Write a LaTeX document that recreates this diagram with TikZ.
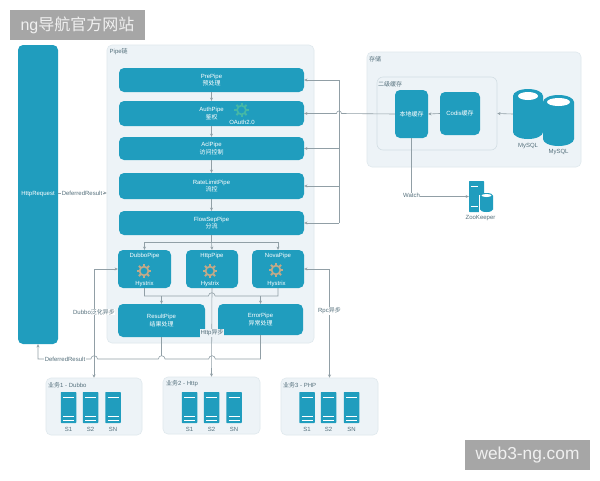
\documentclass[tikz,border=0pt]{standalone}
\usepackage{fontspec}
\setmainfont{Liberation Sans}
\newfontfamily\cjk{Noto Sans CJK SC}
\usetikzlibrary{arrows.meta}
\definecolor{teal1}{HTML}{209DBE}
\definecolor{panelfill}{HTML}{EDF3F7}
\definecolor{panelline}{HTML}{DFE8ED}
\definecolor{cacheline}{HTML}{D3DEE4}
\definecolor{wire}{HTML}{919FA6}
\definecolor{ink}{HTML}{55707C}
\definecolor{gearc}{HTML}{C2A988}
\definecolor{gearg}{HTML}{45B8A6}
\definecolor{wm}{HTML}{A6A6A6}
\tikzset{
  panel/.style={draw=panelline,fill=panelfill,rounded corners=5pt,line width=.6pt,inner sep=0pt},
  cachepanel/.style={draw=cacheline,fill=panelfill,rounded corners=6pt,line width=.6pt,inner sep=0pt},
  pipebox/.style={fill=teal1,rounded corners=5pt,inner sep=0pt,text=white,align=center,
     font=\fontsize{6}{7.5}\selectfont},
  srvbox/.style={fill=teal1,inner sep=0pt,minimum width=15.5pt,minimum height=31pt,rounded corners=.6pt},
  wirepath/.style={draw=wire,line width=.6pt},
  arr/.style={wirepath,-{Stealth[length=3.2pt,width=3pt]}},
  arrboth/.style={wirepath,{Stealth[length=3.2pt,width=3pt]}-{Stealth[length=3.2pt,width=3pt]}},
  txt/.style={inner sep=0pt,text=ink,font=\fontsize{6}{7.5}\selectfont},
  wtxt/.style={inner sep=0pt,text=white,font=\fontsize{6}{7.5}\selectfont},
  wirelabel/.style={txt,fill=white,inner xsep=.6pt,inner ysep=.6pt},
  wmbox/.style={fill=wm,inner sep=0pt,text=white!94!black,font=\fontsize{16}{18}\selectfont},
}
\newcommand{\geardraw}[3]{%
  \draw[#3,line width=1.7pt] (#1,#2) circle[radius=4.4pt];
  \foreach \ang in {0,45,...,315}{
    \draw[#3,line width=2pt] ([shift={(\ang:4.8pt)}]#1,#2) -- ([shift={(\ang:7.2pt)}]#1,#2);
  }}
\newcommand{\srvdraw}[3]{%
  \node[srvbox] (#1) at (#2,407.5) {};
  \draw[white,line width=.8pt] (#2-5.5,397) -- (#2+5.5,397)
     (#2-5.5,416) -- (#2+5.5,416) (#2-5.5,420) -- (#2+5.5,420);
  \node[txt] (#1t) at (#2,429.5) {#3};}
\begin{document}
\begin{tikzpicture}[x=1pt,y=-1pt]
\useasboundingbox (0,0) rectangle (600,480);
\fill[white] (0,0) rectangle (600,480);

% panels
\node[panel,minimum width=207pt,minimum height=298pt] (pipepanel) at (210.5,194) {};
\node[panel,minimum width=214pt,minimum height=115pt] (store) at (474,109.5) {};
\node[cachepanel,minimum width=120pt,minimum height=73pt] (cache) at (437,113.5) {};
\node[panel,minimum width=96pt,minimum height=57pt] (biz1) at (94,406.5) {};
\node[panel,minimum width=97pt,minimum height=57pt] (biz2) at (211.5,405.5) {};
\node[panel,minimum width=97pt,minimum height=57pt] (biz3) at (329.5,406.5) {};

\coordinate (split) at (211.5,242);
\coordinate (busTop) at (339,80);
\coordinate (busBot) at (339,223);

% HttpRequest
\node[pipebox,minimum width=40pt,minimum height=299pt] (httpreq) at (38,194.5) {HttpRequest};

% pipes
\node[pipebox,minimum width=185pt,minimum height=24pt] (prepipe) at (211.5,80) {PrePipe\\{\cjk 预处理}};
\node[pipebox,minimum width=185pt,minimum height=25pt] (authpipe) at (211.5,113.5) {AuthPipe\\{\cjk 鉴权}};
\node[pipebox,minimum width=185pt,minimum height=23pt] (aclpipe) at (211.5,148.5) {AclPipe\\{\cjk 访问控制}};
\node[pipebox,minimum width=185pt,minimum height=26pt] (ratepipe) at (211.5,186) {RateLimitPipe\\{\cjk 流控}};
\node[pipebox,minimum width=185pt,minimum height=24pt] (flowpipe) at (211.5,223) {FlowSepPipe\\{\cjk 分流}};
\node[pipebox,minimum width=53pt,minimum height=38pt] (dubbopipe) at (144.5,269) {};
\node[pipebox,minimum width=52pt,minimum height=38pt] (httppipe) at (212,269) {};
\node[pipebox,minimum width=52pt,minimum height=38pt] (novapipe) at (278,269) {};
\node[pipebox,minimum width=87pt,minimum height=33pt] (resultpipe) at (161.5,320.5) {ResultPipe\\{\cjk 结果处理}};
\node[pipebox,minimum width=85pt,minimum height=31pt] (errorpipe) at (260.5,319.5) {ErrorPipe\\{\cjk 异常处理}};

\node[wtxt] (dubbot) at (144.5,256) {DubboPipe};
\node[wtxt] (httpt) at (212,256) {HttpPipe};
\node[wtxt] (novat) at (278,256) {NovaPipe};
\node[wtxt] (dubboh) at (144.5,283.5) {Hystrix};
\node[wtxt] (httph) at (210,283.5) {Hystrix};
\node[wtxt] (novah) at (276.5,283.5) {Hystrix};
\geardraw{144}{271}{gearc}
\geardraw{210}{271}{gearc}
\geardraw{276}{270}{gearc}
\geardraw{241.5}{110}{gearg}
\node[wtxt] (oauth) at (242,122) {OAuth2.0};

% bus to the pipes
\draw[wirepath] (busTop) -- (busBot);
\draw[arr] (busTop) -- (prepipe.east);
\draw[arr] (busTop |- aclpipe.east) -- (aclpipe.east);
\draw[arr] (busTop |- ratepipe.east) -- (ratepipe.east);
\draw[arr] (busBot) -- (flowpipe.east);

% chain
\draw[arr] (prepipe) -- (authpipe);
\draw[arr] (authpipe) -- (aclpipe);
\draw[arr] (aclpipe) -- (ratepipe);
\draw[arr] (ratepipe) -- (flowpipe);
\draw[wirepath] (flowpipe.south) -- (split);
\draw[arr] (split) -| (dubbopipe.north);
\draw[arr] (split) -- (httppipe.north);
\draw[arr] (split) -| (novapipe.north);

% merge under the three pipes
\coordinate (mergeL) at (dubbopipe.south |- 0,296);
\coordinate (mergeR) at (novapipe.south |- 0,296);
\draw[wirepath] (dubbopipe.south) -- (mergeL) -- (208.5,296) arc[start angle=180,end angle=0,radius=3.3pt] -- (mergeR) -- (novapipe.south);
\draw[arr] (resultpipe.north |- 0,296) -- (resultpipe.north);
\draw[arr] (errorpipe.north |- 0,296) -- (errorpipe.north);

% http async
\draw[arr] (httppipe.south) -- (biz2.north);
\node[wirelabel,fill=panelfill] (httpasync) at (212,333) {Http{\cjk 异步}};

% deferred result return
\draw[wirepath] (resultpipe.south) -- (161.5,355.7);
\draw[arr] (errorpipe.south) -- (260.5,359) -- (215.3,359) arc[start angle=0,end angle=180,radius=3.3pt]
   -- (165,359) arc[start angle=0,end angle=180,radius=3.3pt]
   -- (97.5,359) arc[start angle=0,end angle=180,radius=3.3pt]
   -- (38,359) -- (httpreq.south);
\node[wirelabel] (defres2) at (65,359) {DeferredResult};

% dubbo + rpc
\draw[arrboth] (dubbopipe.west) -| (biz1.north);
\node[wirelabel] (dubboasync) at (94,312) {Dubbo{\cjk 泛化异步}};
\draw[arrboth] (novapipe.east) -| (biz3.north);
\node[wirelabel] (rpcasync) at (329.5,311) {Rpc{\cjk 异步}};

% request
\draw[arr] (httpreq.east |- 0,193) -- (pipepanel.west |- 0,193);
\node[wirelabel] (defres1) at (82,193) {DeferredResult};

% titles
\node[txt,anchor=west] (pipetitle) at (109.5,52) {Pipe{\cjk 链}};
\node[txt,anchor=west] (storetitle) at (369,59) {\cjk 存储};
\node[txt,anchor=west] (cachetitle) at (378,84) {\cjk 二级缓存};
\node[txt,anchor=west] (biz1t) at (48,385) {{\cjk 业务}1 - Dubbo};
\node[txt,anchor=west] (biz2t) at (166,384) {{\cjk 业务}2 - Http};
\node[txt,anchor=west] (biz3t) at (283,385) {{\cjk 业务}3 - PHP};

% storage
\node[pipebox,minimum width=33pt,minimum height=48pt] (localc) at (411.5,114) {{\cjk 本地缓存}};
\node[pipebox,minimum width=40pt,minimum height=43pt] (codis) at (460,113.5) {Codis{\cjk 缓存}};
\node[inner sep=0pt,minimum width=30pt,minimum height=50pt] (mysqla) at (528,114) {};
\node[inner sep=0pt,minimum width=31pt,minimum height=51pt] (mysqlb) at (558.5,120.5) {};
\fill[teal1] (513,96) arc[start angle=180,end angle=0,x radius=15pt,y radius=7pt] -- (543,132)
  arc[start angle=0,end angle=-180,x radius=15pt,y radius=7pt] -- cycle;
\fill[white] (528,96) ellipse[x radius=10pt,y radius=4pt];
\fill[teal1] (543,102) arc[start angle=180,end angle=0,x radius=15.5pt,y radius=7pt] -- (574,139)
  arc[start angle=0,end angle=-180,x radius=15.5pt,y radius=7pt] -- cycle;
\fill[white] (558.5,102) ellipse[x radius=11.5pt,y radius=4pt];
\node[txt] (mysqlat) at (528,146) {MySQL};
\node[txt] (mysqlbt) at (558.5,152) {MySQL};
\draw[arr] (codis.west) -- (localc.east);
\draw[arr] (mysqla.west) -- (cache.east);
\draw[arr] (localc.west) -- (341.5,113.5) arc[start angle=0,end angle=180,radius=2.5pt] -- (authpipe.east);

% zookeeper
\node[fill=teal1,inner sep=0pt,minimum width=15pt,minimum height=31pt,rounded corners=.6pt] (zk) at (476.5,196.5) {};
\draw[white,line width=.8pt] (470.5,186) -- (478,186) (470.5,206) -- (478,206);
\fill[white] (478.5,195) rectangle (494.5,213);
\fill[teal1] (480,195.5) arc[start angle=180,end angle=0,x radius=6.5pt,y radius=2.5pt] -- (493,209.5)
   arc[start angle=0,end angle=-180,x radius=6.5pt,y radius=2.5pt] -- cycle;
\fill[white] (486.5,195.5) ellipse[x radius=5pt,y radius=1.5pt];
\node[txt] (zkt) at (480.5,218) {ZooKeeper};
\draw[arr] (localc.south) |- (zk.west);
\node[wirelabel] (watch) at (411.5,195.5) {Watch};

% servers
\srvdraw{sa}{68.5}{S1}
\srvdraw{sb}{90.5}{S2}
\srvdraw{sc}{113}{SN}
\srvdraw{sd}{189.5}{S1}
\srvdraw{se}{211.5}{S2}
\srvdraw{sf}{234}{SN}
\srvdraw{sg}{307}{S1}
\srvdraw{sh}{328.5}{S2}
\srvdraw{si}{351.5}{SN}

% watermarks
\node[wmbox,minimum width=135pt,minimum height=30pt] (wma) at (77.5,25) {ng{\cjk 导航官方网站}};
\node[wmbox,minimum width=125pt,minimum height=30pt,font=\fontsize{17.3}{19}\selectfont] (wmb) at (527.5,455) {web3-ng.com};
\end{tikzpicture}
\end{document}
